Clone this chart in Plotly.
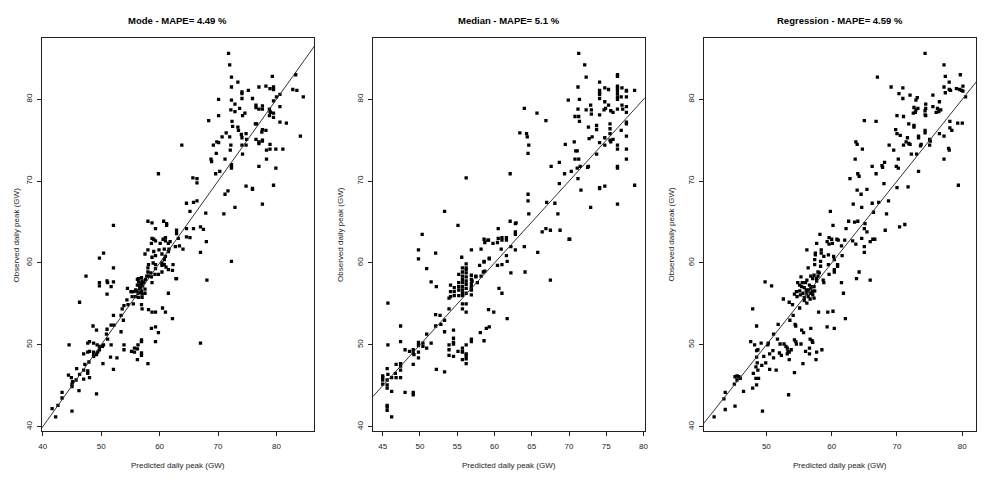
import plotly.graph_objects as go

# (predicted, observed) daily peaks in GW
MODE_POINTS = [
    (71.8, 85.6), (72.0, 84.2), (72.3, 82.7), (72.3, 81.5), (73.4, 82.1), (70.1, 80.0), (72.3, 79.9),
    (72.9, 79.4), (72.2, 78.7), (72.9, 78.5), (73.7, 78.9), (74.1, 80.9), (74.1, 80.7), (74.1, 80.1),
    (75.2, 81.1), (75.9, 80.1), (74.2, 78.0), (74.6, 78.3), (70.1, 78.0), (68.4, 77.4), (63.8, 74.4),
    (83.3, 83.0), (82.8, 81.2), (83.5, 81.1), (84.6, 80.3), (84.1, 75.5), (79.3, 82.8), (78.2, 81.6),
    (77.0, 81.5), (78.9, 81.3), (79.5, 81.5), (79.5, 81.2), (80.0, 80.3), (80.6, 80.6), (79.5, 79.8),
    (80.6, 79.1), (76.5, 79.3), (76.5, 79.0), (77.0, 78.8), (77.6, 78.8), (78.8, 78.8), (78.9, 78.5),
    (79.0, 78.4), (79.5, 78.3), (79.5, 77.8), (78.8, 78.0), (77.6, 79.2), (76.4, 77.0), (77.6, 76.3),
    (78.2, 76.2), (77.5, 76.0), (80.6, 77.2), (81.7, 77.1), (73.4, 76.6), (72.5, 76.7), (72.4, 77.3),
    (73.5, 76.2), (74.0, 75.7), (74.8, 75.8), (74.1, 75.3), (74.9, 75.1), (74.1, 74.4), (74.8, 74.4),
    (74.2, 73.3), (71.4, 75.9), (70.7, 75.4), (72.0, 75.4), (69.8, 74.8), (69.2, 74.4), (70.1, 74.7),
    (72.2, 74.4), (72.1, 73.8), (69.7, 73.4), (68.8, 72.7), (68.9, 72.4), (71.2, 72.7), (72.3, 71.8),
    (72.3, 71.6), (72.3, 72.0), (69.6, 70.9), (70.3, 71.2), (76.5, 75.1), (77.0, 74.6), (77.0, 74.8),
    (77.6, 74.9), (77.6, 75.0), (78.9, 74.5), (78.9, 73.9), (78.3, 73.8), (79.9, 73.9), (81.1, 73.9),
    (76.6, 77.0), (77.0, 71.8), (79.9, 71.6), (78.3, 72.7), (74.8, 69.4), (75.9, 69.1), (75.9, 69.0),
    (79.5, 69.5), (77.6, 67.2), (72.9, 66.8), (71.0, 66.0), (71.7, 68.8), (71.2, 68.4), (65.7, 70.4),
    (66.4, 70.3), (66.4, 69.8), (59.8, 70.9), (64.6, 67.3), (65.8, 67.4), (66.4, 67.6), (65.2, 66.3),
    (67.9, 66.1), (65.8, 64.2), (67.0, 64.4), (67.5, 64.1), (62.9, 64.0), (64.6, 64.2), (65.2, 63.1),
    (64.6, 63.2), (58.0, 65.1), (58.7, 64.9), (59.3, 64.2), (60.7, 65.1), (61.2, 64.8), (61.2, 64.6),
    (52.1, 64.6), (58.7, 63.0), (60.6, 62.9), (61.0, 63.1), (59.0, 62.9), (63.2, 63.0), (62.9, 63.6),
    (58.6, 62.4), (59.3, 62.7), (60.1, 62.4), (61.0, 62.7), (61.5, 62.4), (58.0, 61.6), (59.0, 61.4),
    (59.9, 61.6), (60.8, 61.7), (61.8, 62.6), (61.5, 61.4), (61.6, 61.7), (62.7, 62.0), (63.4, 62.1),
    (64.0, 61.7), (68.0, 62.6), (67.0, 61.3), (72.3, 60.2), (68.1, 57.9), (62.9, 58.1), (57.5, 61.1),
    (58.7, 60.7), (59.3, 60.9), (60.4, 61.1), (61.0, 60.8), (60.8, 60.4), (58.1, 59.8), (58.0, 59.4),
    (58.0, 58.9), (58.9, 60.0), (59.3, 59.8), (60.4, 60.0), (60.4, 59.7), (60.8, 59.8), (61.1, 59.5),
    (59.3, 59.3), (59.2, 58.6), (59.8, 58.6), (58.5, 58.8), (58.1, 58.4), (58.6, 58.3), (61.5, 59.2),
    (62.2, 59.1), (62.3, 59.8), (60.4, 58.9), (58.7, 57.6), (56.2, 57.3),
    (56.2, 58.0), (56.4, 57.7), (56.5, 57.3), (56.7, 57.0), (56.8, 56.7), (56.9, 56.5), (57.0, 56.2),
    (56.3, 56.3), (55.9, 56.7), (55.6, 56.5), (55.2, 56.5), (55.3, 55.9), (55.9, 55.9), (56.4, 55.8),
    (57.0, 55.8), (57.5, 56.8), (57.5, 56.3), (57.3, 57.6), (57.0, 57.8), (56.9, 58.2), (57.6, 58.0),
    (57.8, 58.4), (56.6, 56.9), (56.1, 56.6), (56.6, 56.4), (57.1, 57.2), (56.9, 57.5), (56.4, 58.1),
    (47.4, 58.4), (50.4, 61.2), (49.7, 60.6), (49.7, 57.6), (49.7, 57.2), (51.0, 57.8), (51.1, 57.6),
    (51.7, 57.1), (51.0, 56.2), (52.1, 57.7), (52.1, 59.4), (46.3, 55.2), (54.5, 56.9), (55.1, 56.5),
    (54.4, 55.5), (53.9, 54.8), (54.6, 54.9), (53.6, 54.4), (52.1, 53.6), (53.4, 53.6), (53.8, 53.0),
    (52.2, 52.4), (51.7, 52.4), (51.0, 51.9), (53.4, 51.6), (50.9, 51.3), (48.6, 52.3), (49.2, 51.8),
    (51.1, 50.7), (51.7, 50.0), (56.9, 54.9), (55.5, 55.0), (57.0, 54.4), (58.1, 54.3), (58.7, 54.0),
    (59.3, 54.0), (60.5, 54.5), (61.0, 54.0), (62.2, 53.2), (61.5, 56.3), (62.8, 58.1), (58.6, 52.0),
    (59.3, 52.2), (59.8, 51.5), (59.3, 50.4), (67.0, 50.2), (56.9, 50.6), (56.9, 50.4), (56.3, 50.0),
    (55.7, 49.6), (55.2, 49.2), (55.7, 49.1), (56.2, 49.5), (56.9, 49.0), (56.9, 48.7), (56.2, 48.2),
    (58.0, 47.7), (53.9, 50.0), (53.9, 49.4), (51.6, 48.5), (52.7, 48.4), (50.3, 47.7), (52.1, 47.0),
    (45.0, 41.9), (49.2, 44.0), (46.2, 44.4), (41.6, 42.2), (42.2, 41.2), (42.6, 42.6), (43.3, 43.5),
    (43.3, 44.2), (44.4, 46.3), (44.9, 46.0), (45.0, 45.2), (45.0, 44.9), (45.1, 45.5), (45.7, 45.7),
    (45.8, 47.1), (46.3, 46.4), (47.0, 45.8), (47.0, 46.9), (47.2, 47.6), (47.0, 48.9), (47.7, 49.1),
    (47.7, 50.2), (48.0, 50.4), (48.0, 49.2), (48.0, 46.0), (47.7, 46.8), (47.7, 46.5), (47.9, 47.9),
    (44.5, 50.0), (48.7, 49.1), (48.7, 48.8), (48.7, 48.6), (49.3, 50.0), (49.2, 48.8), (49.7, 49.8),
    (49.7, 49.4), (49.4, 49.1), (50.2, 49.8), (50.4, 50.0), (48.7, 50.2),
]

MEDIAN_POINTS = [
    (71.3, 85.6), (72.1, 84.2), (72.3, 82.7), (71.2, 81.5), (71.4, 80.0), (69.9, 79.9), (71.2, 78.8),
    (70.8, 77.9), (71.3, 77.9), (71.4, 77.3), (72.3, 78.7), (73.0, 78.7), (73.0, 78.2), (72.9, 79.3),
    (72.6, 76.6), (73.1, 75.4), (72.7, 75.2), (74.1, 82.1), (74.1, 81.1), (74.1, 80.8), (74.1, 80.6),
    (74.1, 80.1), (74.1, 78.1), (74.8, 81.4), (75.3, 81.2), (74.8, 79.7), (74.9, 78.9), (74.7, 78.7),
    (75.3, 79.3), (75.6, 78.6), (75.9, 78.4), (76.5, 83.0), (76.5, 82.8), (76.5, 81.6), (76.5, 81.4),
    (76.5, 81.1), (76.5, 80.7), (76.5, 80.3), (76.5, 80.0), (77.1, 81.4), (77.0, 80.3), (77.7, 81.1),
    (77.7, 81.0), (77.7, 80.3), (76.5, 78.8), (77.1, 79.3), (77.2, 78.8), (77.7, 79.1), (77.7, 78.4),
    (77.7, 77.2), (77.7, 77.0), (77.7, 75.5), (77.7, 73.9), (77.7, 72.7), (78.8, 81.1), (78.8, 69.5),
    (76.5, 74.4), (76.5, 73.9), (76.5, 71.8), (76.5, 71.6), (76.5, 67.2), (77.0, 76.2), (75.5, 77.0),
    (75.5, 76.4), (75.5, 75.8), (75.5, 75.0), (75.6, 74.8), (75.9, 75.1), (74.8, 75.3), (74.8, 74.4),
    (74.1, 74.7), (73.7, 76.8), (73.7, 76.3), (73.7, 73.3), (74.1, 69.2), (74.1, 69.1), (74.8, 69.4),
    (70.7, 74.8), (70.9, 73.7), (71.1, 73.7), (70.8, 72.7), (71.3, 72.7), (71.1, 71.6), (71.5, 71.8),
    (71.2, 70.3), (70.3, 71.2), (71.6, 68.9), (72.6, 71.8), (72.5, 71.7), (69.5, 74.5), (68.7, 72.3),
    (67.6, 71.8), (69.4, 70.9), (68.7, 69.7), (72.9, 66.8), (63.4, 75.9), (64.3, 75.8), (64.4, 75.4),
    (64.6, 74.4), (64.5, 73.4), (64.0, 78.9), (65.7, 78.3), (66.9, 77.4), (64.5, 68.4), (64.5, 67.6),
    (67.0, 67.4), (68.1, 67.3), (68.5, 66.0), (64.6, 66.0), (62.1, 70.9), (56.2, 70.4), (53.3, 66.3),
    (55.1, 64.6), (50.3, 63.5), (62.1, 65.1), (62.9, 64.9), (62.8, 64.8), (60.5, 64.2), (66.4, 63.8),
    (66.9, 64.2), (67.5, 64.0), (68.8, 64.0), (70.1, 62.9), (60.5, 63.0), (61.0, 63.1), (61.6, 63.1),
    (58.6, 62.9), (59.2, 62.8), (62.8, 63.8), (62.8, 63.5),
    (49.8, 61.6), (49.8, 60.5), (52.1, 61.2), (50.9, 59.3), (51.5, 57.7), (52.2, 57.1), (55.6, 60.7),
    (56.9, 61.6), (58.2, 61.7), (58.7, 62.5), (59.1, 62.8), (59.8, 62.4), (60.4, 62.5), (61.0, 62.8),
    (61.6, 62.8), (62.2, 62.0), (62.8, 61.6), (64.0, 62.0), (65.8, 61.3), (70.0, 62.9), (59.3, 60.5),
    (59.3, 60.6), (58.6, 60.2), (58.6, 60.1), (58.0, 59.7), (60.4, 59.7), (61.0, 59.8), (61.7, 60.2),
    (61.6, 60.9), (60.9, 61.7), (62.2, 58.8), (64.1, 58.9), (67.5, 57.9), (60.6, 56.9), (61.0, 56.3),
    (61.7, 53.2), (59.2, 54.3), (59.9, 54.0), (57.5, 58.4), (57.5, 58.3), (57.0, 57.8), (56.9, 56.9),
    (56.9, 56.1), (57.7, 57.6), (58.7, 59.0), (58.5, 58.9), (58.2, 58.4), (56.2, 54.0), (58.9, 52.0),
    (59.3, 52.2), (58.1, 51.5), (58.6, 50.5), (56.9, 50.7), (56.9, 50.4), (56.2, 50.0), (56.2, 48.9),
    (56.2, 48.7), (56.2, 48.3), (56.2, 47.7), (55.7, 49.6), (55.7, 49.2), (55.7, 49.1), (55.7, 48.2),
    (55.1, 49.2), (54.5, 51.8), (54.5, 50.8), (54.5, 50.1), (54.5, 50.3), (54.5, 48.6), (53.9, 50.0),
    (53.9, 49.4), (53.9, 48.7), (53.3, 51.6), (53.3, 46.7), (52.2, 47.0), (53.3, 53.0), (52.7, 53.6),
    (52.1, 53.7), (52.8, 52.5), (52.1, 52.3), (50.9, 51.3), (51.5, 50.2), (50.9, 49.6), (50.4, 50.2),
    (50.4, 49.8), (49.8, 50.3), (49.8, 49.9), (49.8, 49.1), (49.8, 48.4), (49.1, 49.4), (49.1, 49.0),
    (49.2, 48.8), (49.1, 47.6), (48.6, 49.2), (48.0, 49.4), (49.1, 44.2), (49.1, 43.9), (48.0, 44.2),
    (47.4, 52.3), (47.4, 50.4), (47.4, 47.7), (47.4, 47.4), (47.4, 46.9), (47.4, 46.0), (46.8, 47.6),
    (46.7, 46.5), (46.8, 46.0), (46.2, 46.0), (46.2, 44.3), (45.7, 55.1), (45.7, 50.0), (45.6, 47.1),
    (45.7, 46.4), (45.6, 45.7), (45.6, 45.1), (45.6, 44.7), (45.0, 46.2), (45.0, 46.0), (45.0, 45.7),
    (45.0, 45.2), (45.6, 42.6), (45.6, 42.4), (45.6, 42.0), (46.2, 41.2),
    (55.7, 58.4), (55.7, 58.0), (55.7, 57.6), (55.7, 57.1), (55.7, 56.7), (55.7, 56.3), (55.7, 56.0),
    (55.2, 57.6), (55.2, 57.1), (55.2, 56.7), (55.2, 56.0), (54.6, 57.0), (54.6, 56.5), (54.6, 56.0),
    (54.1, 57.3), (54.1, 56.5), (54.1, 55.9), (56.2, 58.8), (56.2, 58.3), (56.2, 57.8), (56.2, 57.4),
    (56.2, 56.9), (56.2, 56.3), (56.9, 58.5), (56.9, 58.0), (56.9, 57.5), (56.9, 56.7), (55.2, 58.6),
    (53.9, 55.7), (53.9, 54.4), (55.7, 59.4), (55.7, 58.9), (56.2, 59.9), (56.2, 59.4), (56.2, 59.2),
    (55.7, 55.0), (55.7, 54.4), (56.2, 55.0), (56.9, 57.1),
]

REGRESSION_POINTS = [
    (74.3, 85.6), (77.2, 84.2), (67.0, 82.7), (77.4, 82.8), (78.0, 82.1), (79.7, 83.0), (80.1, 81.6),
    (79.1, 81.3), (79.6, 81.2), (79.9, 81.1), (80.1, 81.0), (78.0, 81.2), (78.2, 81.1), (77.2, 81.5),
    (77.4, 80.8), (80.5, 80.3), (69.1, 81.5), (70.9, 81.4), (70.9, 80.1), (70.3, 80.7), (72.0, 80.5),
    (73.1, 80.2), (72.9, 79.9), (75.5, 80.5), (76.5, 79.7), (74.4, 79.4), (75.5, 79.1), (74.4, 78.9),
    (74.3, 78.6), (72.6, 79.0), (73.2, 78.9), (72.9, 78.7), (72.8, 78.4), (76.2, 78.9), (76.4, 78.5),
    (76.7, 78.7), (76.0, 78.4), (74.4, 78.0), (74.3, 78.1), (72.5, 78.3), (70.0, 78.0), (71.0, 77.9),
    (65.0, 77.4), (66.8, 77.3), (71.8, 77.0), (72.6, 76.8), (72.6, 76.6), (74.3, 76.2), (74.3, 75.9),
    (73.3, 75.5), (73.3, 75.3), (75.0, 75.1), (75.1, 74.9), (75.0, 74.4), (73.7, 74.5), (73.6, 74.3),
    (76.5, 75.8), (77.2, 75.5), (78.1, 77.3), (78.1, 76.5), (78.4, 76.2), (79.3, 77.1), (80.0, 77.1),
    (77.9, 74.0), (78.0, 73.8), (77.2, 72.7), (79.4, 69.5), (69.8, 76.3), (70.0, 75.8), (70.5, 75.6),
    (71.6, 75.3), (71.4, 74.8), (71.8, 74.6), (71.0, 74.4), (72.0, 74.5), (72.2, 73.3), (73.0, 73.3),
    (69.5, 73.8), (68.8, 74.4), (63.7, 74.8), (63.9, 74.5), (64.7, 73.9), (70.2, 72.7), (69.9, 71.8),
    (70.2, 71.6), (67.7, 71.9), (67.8, 71.7), (68.1, 72.3), (66.2, 71.8), (66.8, 70.9), (63.6, 72.7),
    (64.0, 70.9), (64.2, 70.6), (62.8, 70.3), (68.0, 69.7), (70.0, 69.2), (71.7, 69.3), (73.3, 71.2),
    (63.9, 68.9), (64.5, 68.4), (65.4, 69.0), (63.3, 67.2), (64.6, 66.8), (66.2, 67.3), (67.2, 67.4),
    (68.7, 67.6), (66.4, 66.2), (68.4, 66.0), (59.8, 66.3), (60.2, 64.6), (62.6, 65.1), (63.5, 65.0),
    (64.0, 65.1), (62.2, 64.2), (65.0, 64.2), (65.4, 63.8), (65.1, 64.8), (68.2, 64.0), (70.4, 64.4),
    (71.2, 64.7), (58.2, 63.5), (59.6, 63.1), (60.0, 62.9), (60.8, 62.9), (64.6, 63.0), (66.3, 62.9),
    (63.7, 62.3), (63.2, 62.7), (65.0, 62.0), (65.0, 61.3), (65.9, 62.6), (66.6, 62.9), (59.3, 62.6),
    (59.6, 62.3), (60.1, 62.4), (61.0, 62.8), (61.5, 62.1), (62.0, 62.8), (57.7, 62.4), (58.4, 61.6),
    (56.2, 61.6), (57.5, 61.2), (57.5, 61.0), (58.4, 61.2), (58.8, 60.8), (59.5, 61.0), (60.3, 60.8),
    (60.4, 60.4), (61.6, 60.9), (57.4, 60.4), (57.4, 59.8), (58.3, 60.2), (58.3, 59.6), (57.9, 58.9),
    (58.1, 58.8), (56.4, 59.4), (59.5, 59.8), (60.4, 59.2), (60.4, 58.9), (60.9, 59.8), (60.9, 59.6),
    (59.6, 58.6), (58.7, 57.9), (58.8, 57.6), (57.9, 58.4), (57.7, 58.1), (57.3, 58.5), (57.7, 57.8),
    (56.8, 58.4), (57.1, 58.1), (56.2, 57.9), (55.3, 58.3),
    (54.8, 57.6), (55.1, 57.3), (55.4, 57.1), (55.8, 57.0), (56.1, 56.7), (56.5, 56.7), (56.8, 56.9),
    (57.1, 57.1), (57.3, 57.1), (56.2, 56.3), (55.6, 56.3), (55.1, 56.6), (54.6, 56.5), (54.3, 56.2),
    (54.7, 55.9), (55.2, 56.1), (55.8, 55.8), (56.4, 55.9), (56.8, 56.3), (57.1, 56.5), (57.4, 56.6),
    (56.6, 57.3), (56.0, 57.6), (55.5, 57.6), (57.1, 56.1), (57.3, 55.7), (56.7, 55.6), (55.8, 55.4),
    (56.2, 55.1),
    (49.8, 57.7), (50.8, 57.2), (47.9, 54.4), (48.5, 52.3), (52.6, 55.6), (53.5, 55.2), (54.0, 54.9),
    (54.1, 53.6), (53.6, 53.0), (54.4, 52.5), (54.5, 52.3), (55.1, 54.5), (51.8, 52.5), (51.1, 51.3),
    (50.3, 50.2), (50.2, 50.0), (51.7, 50.7), (52.1, 50.1), (52.7, 50.1), (53.0, 49.8), (53.2, 49.6),
    (53.3, 49.2), (53.5, 49.1), (53.8, 49.4), (54.3, 50.6), (54.5, 50.4), (54.6, 50.1), (55.3, 50.1),
    (53.2, 48.9), (52.3, 48.7), (52.0, 49.0), (51.0, 49.3), (51.1, 48.4), (50.5, 48.9), (49.6, 48.6),
    (49.9, 47.8), (49.3, 47.5), (48.4, 47.3), (48.7, 46.9), (48.8, 45.9), (48.4, 45.9), (48.5, 45.1),
    (47.9, 44.7), (50.5, 47.0), (51.5, 46.9), (48.6, 47.8), (48.5, 48.5), (48.5, 49.3), (48.7, 49.4),
    (49.2, 50.2), (48.2, 50.0), (47.6, 50.4), (48.0, 46.5), (55.4, 51.8), (55.7, 51.5), (56.8, 52.0),
    (56.7, 50.7), (57.0, 50.5), (57.1, 50.3), (56.6, 49.6), (56.0, 49.2), (56.6, 48.9), (57.7, 49.1),
    (58.5, 49.4), (57.6, 48.2), (55.6, 47.7), (53.5, 48.2), (54.3, 46.6), (53.4, 43.9), (58.0, 54.0),
    (59.4, 54.0), (60.2, 54.1), (59.3, 52.2), (60.4, 52.0), (62.1, 53.2), (61.8, 56.3), (61.5, 57.6),
    (63.8, 58.1), (64.2, 58.9), (65.9, 57.9), (45.2, 46.1), (45.5, 46.2), (45.8, 46.1), (46.0, 45.9),
    (45.5, 45.7), (45.1, 45.2), (43.7, 44.2), (43.5, 43.4), (43.7, 42.1), (45.2, 42.5), (46.5, 44.3),
    (42.0, 41.2), (49.4, 41.9),
]

PANELS = ["Mode - MAPE= 4.49 %", "Median - MAPE= 5.1 %", "Regression - MAPE= 4.59 %"]
X_TICKS = [[40, 50, 60, 70, 80], [45, 50, 55, 60, 65, 70, 75, 80], [50, 60, 70, 80]]
Y_TICKS = [40, 50, 60, 70, 80]
X_RANGES = [[39.83, 86.46], [43.72, 80.17], [40.42, 82.13]]
Y_RANGE = [39.47, 87.49]
DIAGONAL = [30, 95]  # y = x reference line

# page pixels -> paper coords (the page body adds an 8px margin)
W, H, PAD = 1000, 480, 8


def px(x):
    return (x - PAD) / W


def py(y):
    return 1 - (y - PAD) / H


X_DOMAINS = [[px(39), px(313.3)], [px(372.7), px(646.3)], [px(705.7), px(980)]]
Y_DOMAIN = [py(431), py(38)]

FONT = "Liberation Sans, Arial, sans-serif"

fig = go.Figure()
for i, (title, pts) in enumerate(zip(PANELS, [MODE_POINTS, MEDIAN_POINTS, REGRESSION_POINTS])):
    n = "" if i == 0 else str(i + 1)
    fig.add_trace(go.Scatter(
        x=[p[0] for p in pts], y=[p[1] for p in pts],
        mode="markers",
        marker=dict(symbol="square", size=3.3, color="black", line=dict(width=0)),
        xaxis="x" + n, yaxis="y" + n, showlegend=False,
    ))
    fig.add_trace(go.Scatter(
        x=DIAGONAL, y=DIAGONAL, mode="lines",
        line=dict(color="#333", width=1),
        xaxis="x" + n, yaxis="y" + n, showlegend=False,
    ))

    axis_style = dict(
        showgrid=False, zeroline=False, showline=True, mirror=True,
        linecolor="#222", linewidth=1, ticks="outside", ticklen=4,
        tickcolor="#222", tickfont=dict(size=8, color="#222", family=FONT),
    )
    fig.update_layout({
        "xaxis" + n: dict(axis_style, domain=X_DOMAINS[i], range=X_RANGES[i],
                          tickvals=X_TICKS[i], anchor="y" + n, ticklabelstandoff=3),
        "yaxis" + n: dict(axis_style, domain=Y_DOMAIN, range=Y_RANGE,
                          tickvals=Y_TICKS, tickangle=-90, anchor="x" + n, ticklabelstandoff=2),
    })

    cx = (X_DOMAINS[i][0] + X_DOMAINS[i][1]) / 2
    fig.add_annotation(text="<b>" + title + "</b>", x=cx, y=py(20),
                       xref="paper", yref="paper", xanchor="center", yanchor="middle",
                       showarrow=False, font=dict(size=9.5, color="black", family=FONT))
    fig.add_annotation(text="Predicted daily peak (GW)", x=cx, y=py(465),
                       xref="paper", yref="paper", xanchor="center", yanchor="middle",
                       showarrow=False, font=dict(size=8, color="#222", family=FONT))
    # keep the first panel's label inside the figure's left edge
    ylab_x = max(X_DOMAINS[i][0] - 33 / W, px(14))
    fig.add_annotation(text="Observed daily peak (GW)", x=ylab_x,
                       y=(Y_DOMAIN[0] + Y_DOMAIN[1]) / 2, textangle=-90,
                       xref="paper", yref="paper", xanchor="center", yanchor="middle",
                       showarrow=False, font=dict(size=8, color="#222", family=FONT))

fig.update_layout(
    width=W, height=H,
    margin=dict(l=0, r=0, t=0, b=0),
    plot_bgcolor="white", paper_bgcolor="white",
    font=dict(family=FONT),
)

fig.write_html("out.html")
